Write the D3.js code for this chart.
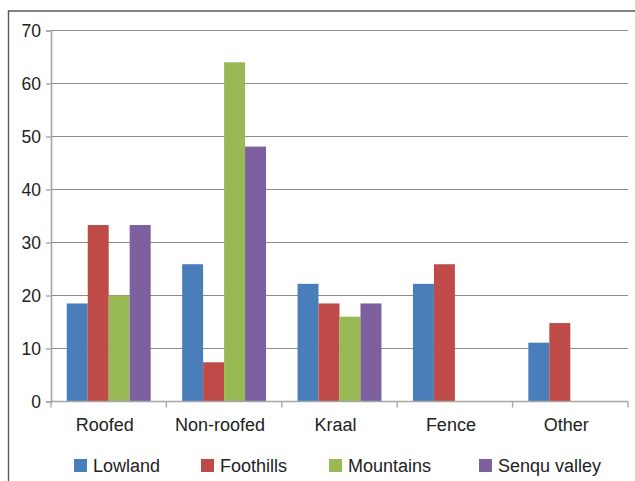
<!DOCTYPE html>
<html>
<head>
<meta charset="utf-8">
<script src="https://cdn.jsdelivr.net/npm/d3@7/dist/d3.min.js"></script>
<style>
  html, body { margin: 0; padding: 0; background: #fff; }
  svg { display: block; }
  text { font-family: "Liberation Sans", Arial, sans-serif; fill: #222; }
</style>
</head>
<body>
<svg id="chart" width="635" height="481"></svg>
<script>
// Category labels along the x axis
const categories = ["Roofed", "Non-roofed", "Kraal", "Fence", "Other"];

// Series names (legend order)
const seriesNames = ["Lowland", "Foothills", "Mountains", "Senqu valley"];

// Values per series, one entry per category (null = no bar)
const lowland     = [18.5, 25.9, 22.2, 22.2, 11.1];
const foothills   = [33.3, 7.4, 18.5, 25.9, 14.8];
const mountains   = [20.0, 64.0, 16.0, null, null];
const senquValley = [33.3, 48.1, 18.5, null, null];

// Y axis ticks
const yTicks = [0, 10, 20, 30, 40, 50, 60, 70];

const seriesValues = [lowland, foothills, mountains, senquValley];
const colors = ["#4a7ebb", "#be4b48", "#98b954", "#7d60a0"];

const svg = d3.select("#chart");
const W = 635, H = 481;
const plot = { left: 51, right: 628, top: 30.5, bottom: 401.5 };

// outer chart frame (top and left edges visible)
svg.append("path")
  .attr("d", `M8.5,${H} L8.5,11 L${W},11`)
  .attr("fill", "none")
  .attr("stroke", "#595959")
  .attr("stroke-width", 1.4);

const x = d3.scaleBand()
  .domain(categories)
  .range([plot.left, plot.right])
  .paddingInner(0)
  .paddingOuter(0);

const y = d3.scaleLinear()
  .domain([0, 70])
  .range([plot.bottom, plot.top]);

// inner grouping: 4 bars with 150% gap between clusters
const barW = x.bandwidth() / 5.5;
const x1 = d3.scaleBand()
  .domain(seriesNames)
  .range([barW * 0.75, barW * 0.75 + barW * 4])
  .padding(0);

// horizontal gridlines
svg.append("g")
  .selectAll("line")
  .data(yTicks.filter(t => t > 0))
  .join("line")
  .attr("x1", plot.left)
  .attr("x2", plot.right)
  .attr("y1", d => y(d))
  .attr("y2", d => y(d))
  .attr("stroke", "#8c8c8c")
  .attr("stroke-width", 1);

// bars
const rows = [];
seriesValues.forEach((vals, si) => {
  vals.forEach((v, ci) => {
    if (v !== null) rows.push({ s: seriesNames[si], c: categories[ci], v, color: colors[si] });
  });
});

svg.append("g")
  .selectAll("rect")
  .data(rows)
  .join("rect")
  .attr("x", d => x(d.c) + x1(d.s))
  .attr("width", x1.bandwidth())
  .attr("y", d => y(d.v))
  .attr("height", d => y(0) - y(d.v))
  .attr("fill", d => d.color);

// y axis
const yAxis = svg.append("g")
  .attr("transform", `translate(${plot.left},0)`)
  .call(d3.axisLeft(y).tickValues(yTicks).tickSize(5).tickPadding(5).tickFormat(d3.format("d")));
yAxis.select(".domain").attr("stroke", "#a6a6a6").attr("stroke-width", 1.6);
yAxis.selectAll(".tick line").attr("stroke", "#a6a6a6").attr("stroke-width", 1.4);
yAxis.selectAll(".tick text")
  .attr("font-size", 17.5)
  .attr("font-family", "Liberation Sans, Arial, sans-serif")
  .attr("fill", "#222");

// x axis with tick marks between categories
const xAxisG = svg.append("g").attr("transform", `translate(0,${plot.bottom})`);
xAxisG.append("line")
  .attr("x1", plot.left).attr("x2", plot.right)
  .attr("y1", 0).attr("y2", 0)
  .attr("stroke", "#a6a6a6").attr("stroke-width", 1.6);
const boundaries = categories.map(c => x(c)).concat([x(categories[categories.length - 1]) + x.bandwidth()]);
xAxisG.selectAll("line.tk")
  .data(boundaries)
  .join("line")
  .attr("class", "tk")
  .attr("x1", d => d).attr("x2", d => d)
  .attr("y1", 0).attr("y2", 6)
  .attr("stroke", "#a6a6a6").attr("stroke-width", 1.4);
xAxisG.selectAll("text")
  .data(categories)
  .join("text")
  .attr("x", d => x(d) + x.bandwidth() / 2 - 4)
  .attr("y", 29.5)
  .attr("text-anchor", "middle")
  .attr("font-size", 18)
  .text(d => d);

// legend: swatch + label for each series
const legendX = [74, 201, 329, 479];
const legend = svg.append("g").attr("transform", "translate(0,459)");
seriesNames.forEach((name, i) => {
  const g = legend.append("g").attr("transform", `translate(${legendX[i]},0)`);
  g.append("rect")
    .attr("width", 13).attr("height", 13)
    .attr("fill", colors[i]);
  g.append("text")
    .attr("x", 19).attr("y", 12.8)
    .attr("font-size", 18)
    .text(name);
});
</script>
</body>
</html>
